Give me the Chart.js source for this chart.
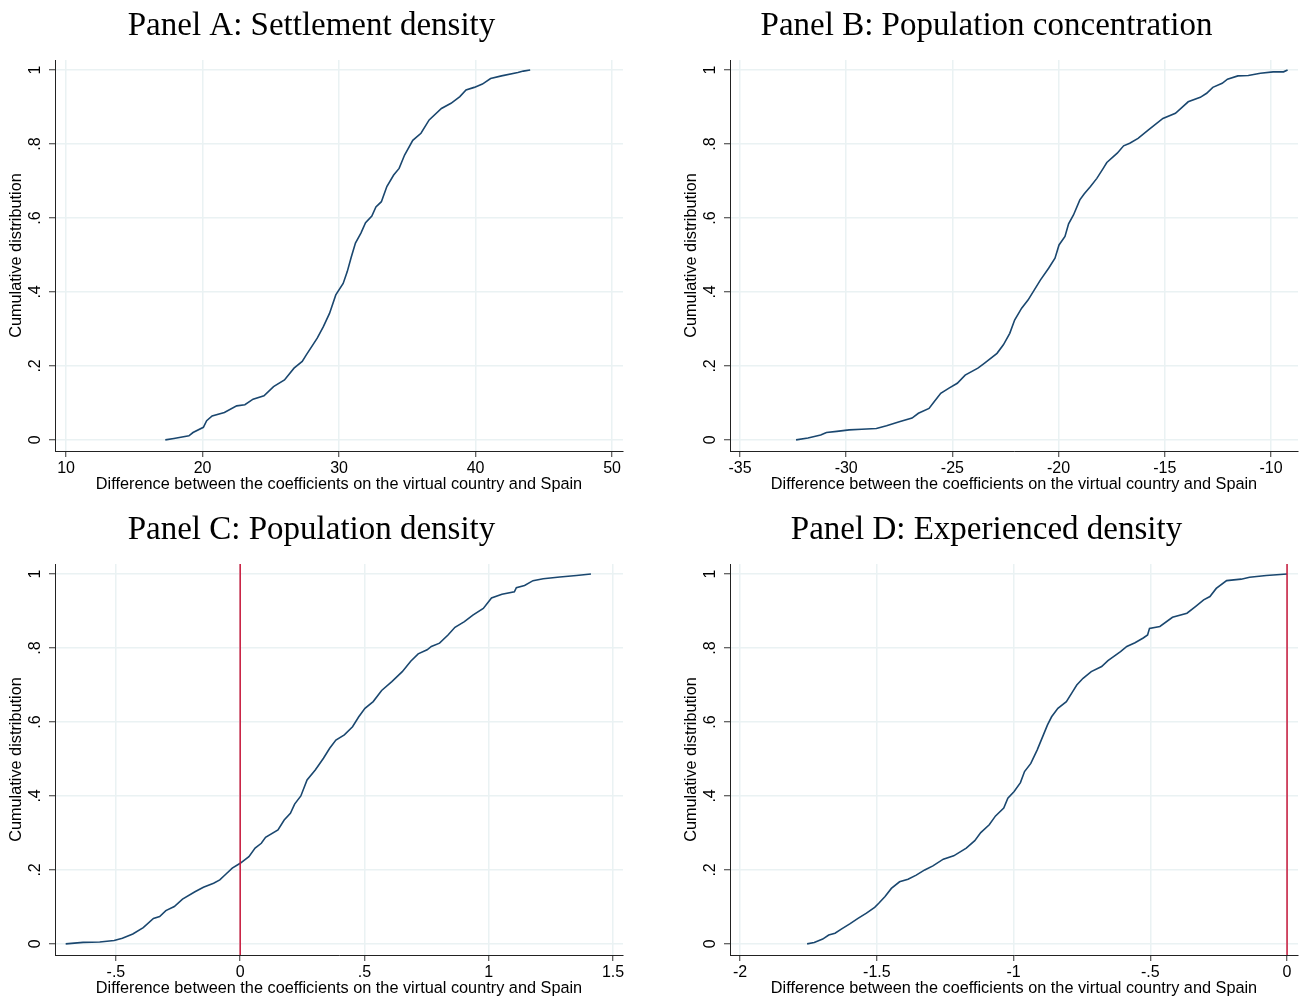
<!DOCTYPE html>
<html>
<head>
<meta charset="utf-8">
<script src="https://cdn.jsdelivr.net/npm/chart.js@4.4.1/dist/chart.umd.min.js"></script>
<style>
  html, body { margin: 0; padding: 0; background: #fff; overflow: hidden; }
  .panel { position: absolute; width: 630px; height: 500px; }
</style>
</head>
<body>
<div class="panel" style="left:0;top:0"><canvas id="panelA" width="630" height="500"></canvas></div>
<div class="panel" style="left:675px;top:0"><canvas id="panelB" width="630" height="500"></canvas></div>
<div class="panel" style="left:0;top:504px"><canvas id="panelC" width="630" height="500"></canvas></div>
<div class="panel" style="left:675px;top:504px"><canvas id="panelD" width="630" height="500"></canvas></div>
<script>
// Cumulative distributions of the coefficient differences

// Panel A: Settlement density
const aX = [17.27, 17.9, 19.0, 19.3, 20.06, 20.3, 20.7, 21.6, 22.5, 23.1, 23.7, 24.5, 25.2, 26.0,
    26.7, 27.3, 27.6, 28.4, 28.85, 29.3, 29.76, 30.3, 30.6, 30.9, 31.2, 31.6, 31.94, 32.4, 32.7,
    33.1, 33.5, 34.0, 34.4, 34.8, 35.4, 36.0, 36.6, 37.5, 38.2, 38.85, 39.3, 39.9, 40.5, 41.1,
    41.9, 43.1, 43.5, 44.0];
const aY = [0, 0.004, 0.011, 0.02, 0.034, 0.052, 0.065, 0.074, 0.092, 0.095, 0.11, 0.119, 0.144,
    0.162, 0.194, 0.212, 0.23, 0.275, 0.306, 0.342, 0.392, 0.423, 0.455, 0.495, 0.532, 0.559,
    0.587, 0.605, 0.63, 0.644, 0.685, 0.716, 0.734, 0.77, 0.81, 0.829, 0.865, 0.896, 0.91, 0.928,
    0.946, 0.953, 0.962, 0.977, 0.984, 0.993, 0.997, 1.0];
const aTicks = [10, 20, 30, 40, 50];

// Panel B: Population concentration
const bX = [-32.36, -31.8, -31.2, -30.93, -30.44, -29.86, -29.27, -28.58, -28.1, -27.5, -26.9,
    -26.6, -26.1, -25.85, -25.55, -25.16, -24.77, -24.4, -23.8, -23.5, -22.9, -22.6, -22.3,
    -22.07, -21.74, -21.44, -21.15, -20.86, -20.47, -20.17, -19.98, -19.7, -19.53, -19.3, -19.0,
    -18.8, -18.5, -18.2, -17.9, -17.73, -17.24, -16.94, -16.65, -16.26, -15.77, -15.09, -14.5,
    -13.9, -13.33, -13.03, -12.74, -12.3, -12.05, -11.56, -11.07, -10.5, -9.9, -9.41, -9.22];
const bY = [0, 0.005, 0.013, 0.02, 0.023, 0.027, 0.029, 0.031, 0.038, 0.049, 0.059, 0.072, 0.085,
    0.104, 0.126, 0.14, 0.153, 0.175, 0.194, 0.207, 0.234, 0.257, 0.288, 0.324, 0.356, 0.378,
    0.405, 0.432, 0.464, 0.491, 0.527, 0.55, 0.584, 0.608, 0.649, 0.665, 0.685, 0.707, 0.734,
    0.75, 0.775, 0.795, 0.802, 0.815, 0.838, 0.869, 0.883, 0.914, 0.926, 0.937, 0.953, 0.964,
    0.975, 0.984, 0.985, 0.991, 0.995, 0.995, 1.0];
const bTicks = [-35, -30, -25, -20, -15, -10];

// Panel C: Population density
const cX = [-0.702, -0.632, -0.565, -0.507, -0.474, -0.432, -0.39, -0.349, -0.324, -0.299, -0.265,
    -0.232, -0.182, -0.148, -0.107, -0.082, -0.057, -0.032, 0, 0.035, 0.06, 0.085, 0.102, 0.152,
    0.177, 0.202, 0.219, 0.244, 0.269, 0.302, 0.335, 0.36, 0.385, 0.419, 0.452, 0.477, 0.502,
    0.535, 0.569, 0.61, 0.652, 0.686, 0.716, 0.752, 0.769, 0.802, 0.836, 0.864, 0.902, 0.936,
    0.978, 1.011, 1.053, 1.103, 1.111, 1.144, 1.178, 1.219, 1.286, 1.353, 1.411];
const cY = [0, 0.004, 0.005, 0.009, 0.015, 0.027, 0.044, 0.069, 0.074, 0.09, 0.101, 0.121, 0.141,
    0.153, 0.164, 0.173, 0.189, 0.205, 0.218, 0.236, 0.259, 0.272, 0.288, 0.308, 0.335, 0.353,
    0.378, 0.4, 0.443, 0.47, 0.502, 0.529, 0.551, 0.565, 0.587, 0.614, 0.637, 0.655, 0.685,
    0.709, 0.736, 0.764, 0.784, 0.795, 0.804, 0.813, 0.835, 0.856, 0.871, 0.889, 0.907, 0.935,
    0.945, 0.952, 0.963, 0.969, 0.982, 0.987, 0.992, 0.996, 1.0];
const cTicks = [-0.5, 0, 0.5, 1, 1.5];

// Panel D: Experienced density
const dX = [-1.755, -1.729, -1.698, -1.676, -1.653, -1.63, -1.599, -1.569, -1.538, -1.508, -1.493,
    -1.47, -1.447, -1.417, -1.386, -1.356, -1.325, -1.295, -1.257, -1.219, -1.173, -1.142, -1.12,
    -1.089, -1.066, -1.036, -1.021, -0.998, -0.975, -0.96, -0.937, -0.914, -0.891, -0.876,
    -0.861, -0.838, -0.807, -0.784, -0.769, -0.746, -0.716, -0.678, -0.655, -0.632, -0.609,
    -0.586, -0.556, -0.526, -0.51, -0.503, -0.465, -0.419, -0.366, -0.335, -0.305, -0.282,
    -0.259, -0.221, -0.168, -0.137, -0.076, 0.0];
const dY = [0, 0.004, 0.013, 0.024, 0.029, 0.04, 0.054, 0.069, 0.083, 0.099, 0.11, 0.128, 0.15,
    0.168, 0.175, 0.186, 0.2, 0.211, 0.229, 0.238, 0.259, 0.279, 0.301, 0.322, 0.346, 0.367,
    0.394, 0.412, 0.436, 0.466, 0.488, 0.524, 0.565, 0.592, 0.614, 0.637, 0.655, 0.682, 0.7,
    0.718, 0.736, 0.75, 0.766, 0.778, 0.79, 0.804, 0.814, 0.827, 0.835, 0.853, 0.858, 0.883,
    0.894, 0.912, 0.93, 0.939, 0.961, 0.982, 0.986, 0.991, 0.996, 1.0];
const dTicks = [-2, -1.5, -1, -0.5, 0];

const yTicks = [0, 0.2, 0.4, 0.6, 0.8, 1];

const LINE_COLOR = '#1a476f';
const REF_COLOR = '#c8173a';
const GRID_COLOR = '#eaf2f3';
const SANS = '"Liberation Sans", Arial, sans-serif';
const SERIF = '"Liberation Serif", "Times New Roman", serif';

// Stata style labels: .5 instead of 0.5
function stataLabel(v) {
    let s = String(Math.round(v * 1000) / 1000);
    return s.replace(/^(-?)0\./, '$1.');
}

// y tick labels are drawn rotated, like Stata does; reference line at x = 0
const stataDecor = {
    id: 'stataDecor',
    afterDatasetsDraw(chart, args, opts) {
        if (opts.refLine === undefined || opts.refLine === null) return;
        const { ctx, chartArea, scales } = chart;
        const px = scales.x.getPixelForValue(opts.refLine);
        ctx.save();
        ctx.strokeStyle = REF_COLOR;
        ctx.lineWidth = 1.5;
        ctx.beginPath();
        ctx.moveTo(px, chartArea.top);
        ctx.lineTo(px, chartArea.bottom);
        ctx.stroke();
        ctx.restore();
    },
    afterDraw(chart) {
        const { ctx, scales } = chart;
        const y = scales.y;
        ctx.save();
        ctx.font = '16px ' + SANS;
        ctx.fillStyle = '#000';
        ctx.textAlign = 'center';
        ctx.textBaseline = 'middle';
        y.ticks.forEach(t => {
            const py = y.getPixelForValue(t.value);
            ctx.save();
            ctx.translate(36, py);
            ctx.rotate(-Math.PI / 2);
            ctx.fillText(stataLabel(t.value), 0, 0);
            ctx.restore();
        });
        ctx.restore();
    }
};

function makePanel(id, title, xs, ys, xTicks, xMin, xMax, refLine) {
    const ctx = document.getElementById(id);
    return new Chart(ctx, {
        type: 'line',
        data: {
            datasets: [{
                data: xs.map((x, i) => ({ x: x, y: ys[i] })),
                borderColor: LINE_COLOR,
                borderWidth: 1.6,
                pointRadius: 0,
                tension: 0,
                fill: false
            }]
        },
        options: {
            responsive: false,
            animation: false,
            devicePixelRatio: 1,
            layout: { padding: { left: 0, right: 7, top: 0, bottom: 0 } },
            plugins: {
                legend: { display: false },
                tooltip: { enabled: false },
                title: {
                    display: true,
                    text: title,
                    color: '#000',
                    font: { family: SERIF, size: 33, weight: 'normal', lineHeight: 1.2 },
                    padding: { top: 7, bottom: 13.4 }
                },
                stataDecor: { refLine: refLine }
            },
            scales: {
                x: {
                    type: 'linear',
                    min: xMin,
                    max: xMax,
                    afterBuildTicks: s => { s.ticks = xTicks.map(v => ({ value: v })); },
                    afterFit: s => { s.height = 49; },
                    ticks: {
                        color: '#000',
                        font: { family: SANS, size: 16 },
                        padding: 2,
                        maxRotation: 0,
                        autoSkip: false,
                        callback: v => stataLabel(v)
                    },
                    grid: { color: GRID_COLOR, lineWidth: 1.5, tickColor: '#333', tickWidth: 1, tickLength: 6 },
                    border: { display: true, color: '#222', width: 1 },
                    title: {
                        display: true,
                        text: 'Difference between the coefficients on the virtual country and Spain',
                        color: '#000',
                        font: { family: SANS, size: 16.3, lineHeight: 1.2 },
                        padding: { top: 0, bottom: 6 }
                    }
                },
                y: {
                    type: 'linear',
                    min: -0.03,
                    max: 1.027,
                    afterBuildTicks: s => { s.ticks = yTicks.map(v => ({ value: v })); },
                    afterFit: s => { s.width = 55; },
                    ticks: { display: false },
                    grid: { color: GRID_COLOR, lineWidth: 1.5, tickColor: '#333', tickWidth: 1, tickLength: 6 },
                    border: { display: true, color: '#222', width: 1 },
                    title: {
                        display: true,
                        text: 'Cumulative distribution',
                        color: '#000',
                        font: { family: SANS, size: 16.3, lineHeight: 1.2 },
                        padding: { top: 7, bottom: 0 }
                    }
                }
            }
        },
        plugins: [stataDecor]
    });
}

makePanel('panelA', 'Panel A: Settlement density', aX, aY, aTicks, 9.19, 50.8, null);
makePanel('panelB', 'Panel B: Population concentration', bX, bY, bTicks, -35.47, -8.73, null);
makePanel('panelC', 'Panel C: Population density', cX, cY, cTicks, -0.745, 1.54, 0);
makePanel('panelD', 'Panel D: Experienced density', dX, dY, dTicks, -2.037, 0.04, 0);
</script>
</body>
</html>
